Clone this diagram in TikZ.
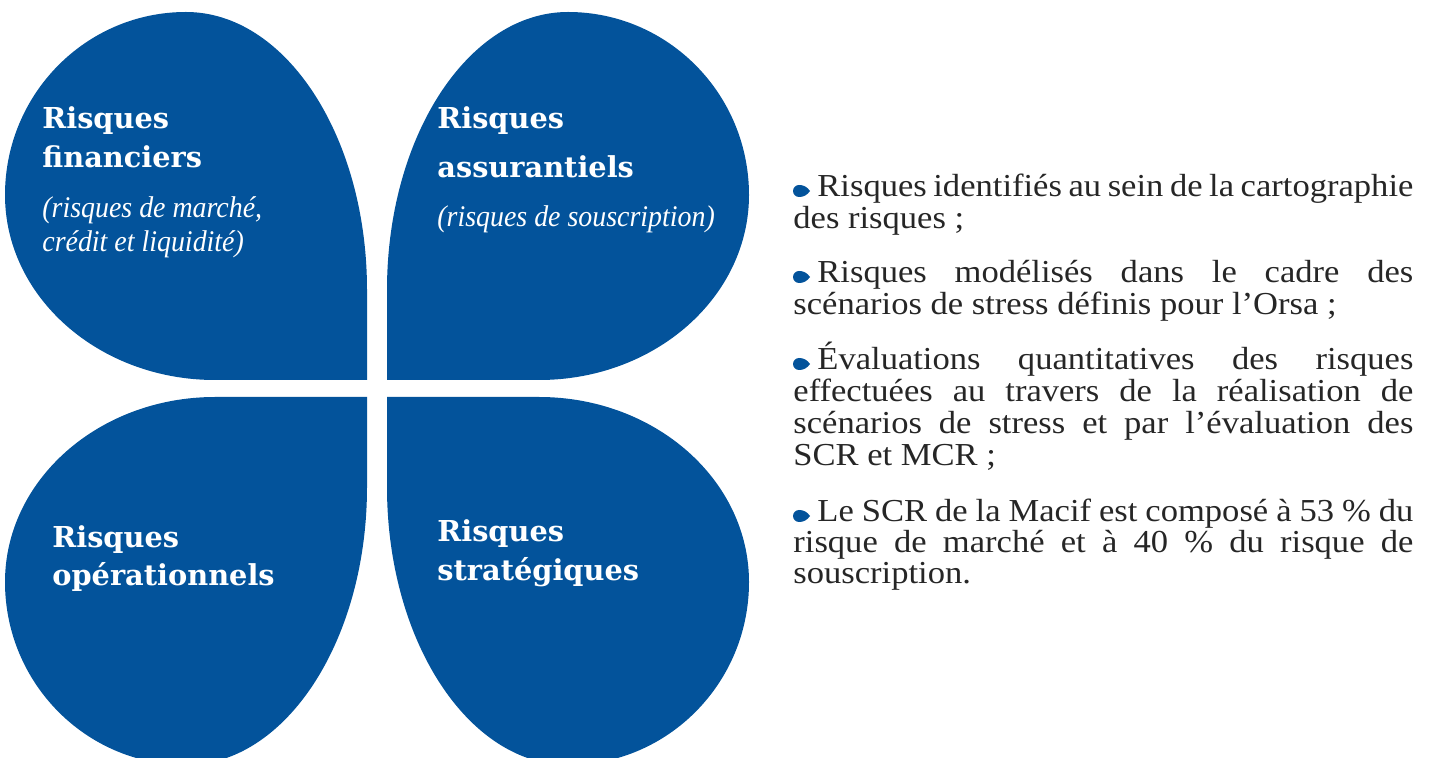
\documentclass[tikz,border=0pt]{standalone}
\usepackage{fontspec}
\setmainfont{Liberation Serif}
\newfontfamily\headfont{DejaVu Serif}
\newfontfamily\bodyfont{Liberation Serif}[FakeStretch=1.08]
\newfontfamily\subfont{Liberation Serif}[FakeStretch=0.93]
\definecolor{mblue}{RGB}{3,83,155}
\definecolor{tgrey}{RGB}{38,38,38}
\newcommand\petalpath{%
  \fill[mblue] (367,380) -- (215,380)
    .. controls (99,380) and (5,297) .. (5,195)
    .. controls (5,94) and (86,12) .. (186,12)
    .. controls (286,12) and (367,137) .. (367,290)
    -- cycle;}
\tikzset{
  head/.style={anchor=base west, inner sep=0pt, text=white, font=\headfont\bfseries\fontsize{14.4}{16}\selectfont},
  sub/.style={anchor=base west, inner sep=0pt, text=white, font=\subfont\itshape\fontsize{15}{17}\selectfont},
  body/.style={anchor=base west, inner sep=0pt, text=tgrey, font=\bodyfont\fontsize{16}{18}\selectfont},
  bul/.pic={\fill[mblue] (11,0) .. controls (8,4.5) and (4,6) .. (0,6)
      arc[start angle=90,end angle=270,radius=6]
      .. controls (4,-6) and (8,-4.5) .. (11,0) -- cycle;}
}
\begin{document}
\begin{tikzpicture}[x=0.5pt,y=-0.5pt]
\useasboundingbox (0,0) rectangle (1430,758);
\clip (0,0) rectangle (1430,758);
% petals
\petalpath
\begin{scope}[shift={(754,0)},xscale=-1]\petalpath\end{scope}
\begin{scope}[shift={(0,777)},yscale=-1]\petalpath\end{scope}
\begin{scope}[shift={(754,777)},xscale=-1,yscale=-1]\petalpath\end{scope}
% headings
\node[head] (tl1) at (42,129) {Risques};
\node[head] (tl2) at (42,168) {financiers};
\node[sub] (tl3) at (42,218) {(risques de marché,};
\node[sub] (tl4) at (42,252) {crédit et liquidité)};
\node[head] (tr1) at (437,129) {Risques};
\node[head] (tr2) at (437,178) {assurantiels};
\node[sub] (tr3) at (437,227) {(risques de souscription)};
\node[head] (bl1) at (52,548) {Risques};
\node[head] (bl2) at (52,586) {opérationnels};
\node[head] (br1) at (437,542) {Risques};
\node[head] (br2) at (437,581) {stratégiques};
% bullets
\pic at (799,191) {bul};
\pic at (799,277) {bul};
\pic at (799,364) {bul};
\pic at (799,516) {bul};
% body text
\node[body] (p1a) at (817,197) {\makebox[298pt][s]{Risques identifiés au sein de la cartographie}};
\node[body] (p1b) at (793,229) {des risques ;};
\node[body] (p2a) at (817,283) {\makebox[298pt][s]{Risques modélisés dans le cadre des}};
\node[body] (p2b) at (793,315) {scénarios de stress définis pour l’Orsa ;};
\node[body] (p3a) at (817,370) {\makebox[298pt][s]{Évaluations quantitatives des risques}};
\node[body] (p3b) at (793,402) {\makebox[310pt][s]{effectuées au travers de la réalisation de}};
\node[body] (p3c) at (793,434) {\makebox[310pt][s]{scénarios de stress et par l’évaluation des}};
\node[body] (p3d) at (793,466) {SCR et MCR ;};
\node[body] (p4a) at (817,522) {\makebox[298pt][s]{Le SCR de la Macif est composé à 53 \% du}};
\node[body] (p4b) at (793,553) {\makebox[310pt][s]{risque de marché et à 40 \% du risque de}};
\node[body] (p4c) at (793,584) {souscription.};
\end{tikzpicture}
\end{document}
